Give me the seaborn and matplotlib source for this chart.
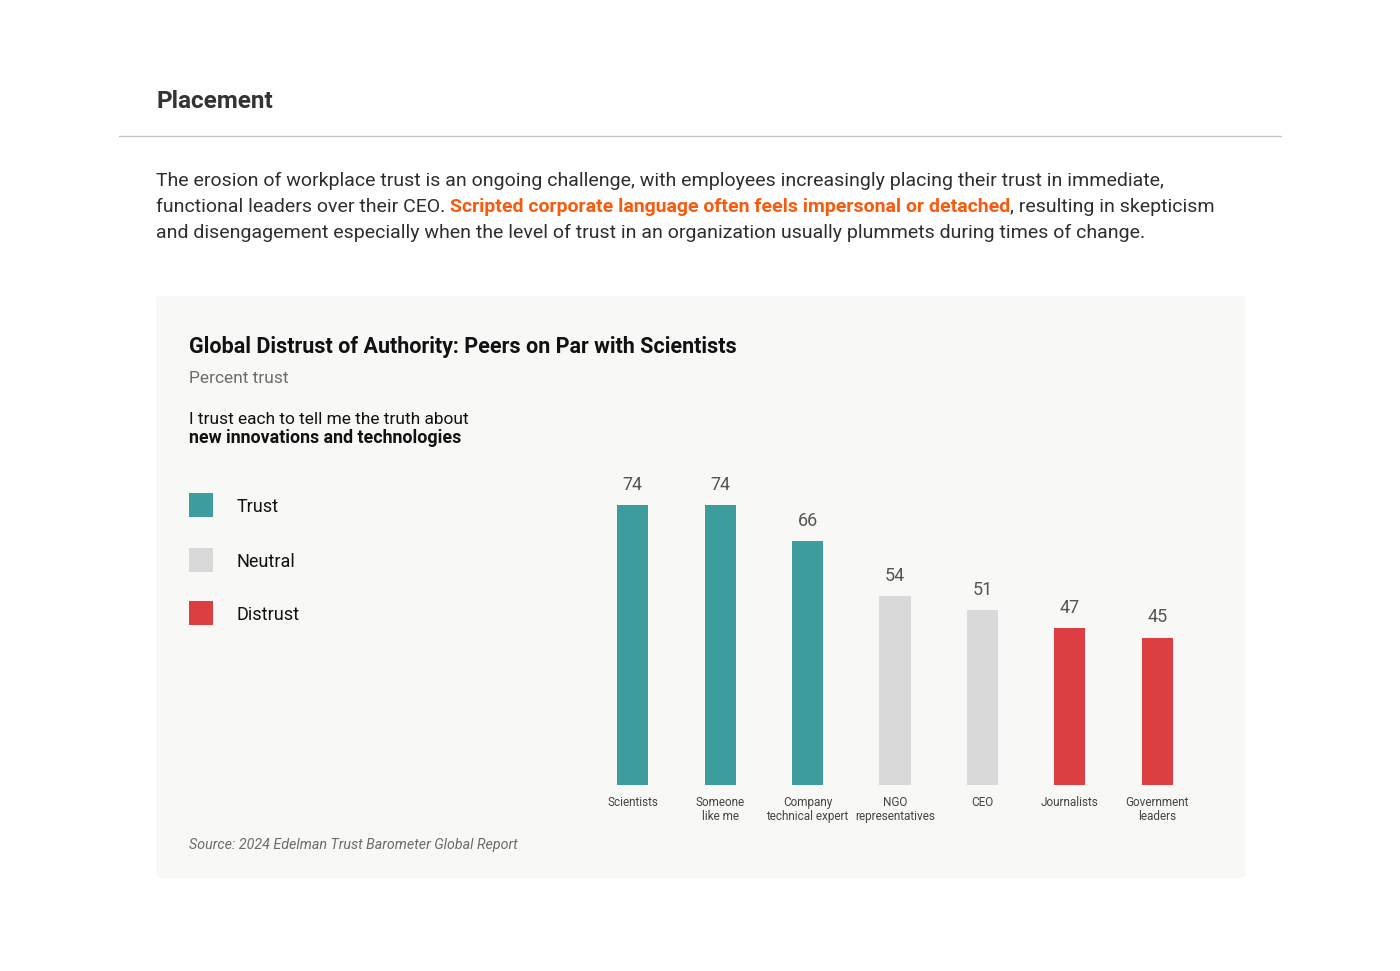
import matplotlib
matplotlib.use("Agg")
import matplotlib.pyplot as plt
from matplotlib.patches import FancyBboxPatch, Rectangle
from matplotlib.lines import Line2D
import seaborn as sns
import pandas as pd

# ---------------- data ----------------
categories = ["Scientists", "Someone\nlike me", "Company\ntechnical expert",
              "NGO\nrepresentatives", "CEO", "Journalists", "Government\nleaders"]
values = [74, 74, 66, 54, 51, 47, 45]
groups = ["Trust", "Trust", "Trust", "Neutral", "Neutral", "Distrust", "Distrust"]
legend_labels = ["Trust", "Neutral", "Distrust"]
group_colors = {"Trust": "#3D9C9C", "Neutral": "#D9D9D9", "Distrust": "#DC3E42"}

heading = "Placement"
para_parts = [
    [("The erosion of workplace trust is an ongoing challenge, with employees increasingly placing their trust in immediate,", "normal")],
    [("functional leaders over their CEO. ", "normal"),
     ("Scripted corporate language often feels impersonal or detached", "accent"),
     (", resulting in skepticism", "normal")],
    [("and disengagement especially when the level of trust in an organization usually plummets during times of change.", "normal")],
]
chart_title = "Global Distrust of Authority: Peers on Par with Scientists"
chart_subtitle = "Percent trust"
question_line1 = "I trust each to tell me the truth about"
question_line2 = "new innovations and technologies"
source_text = "Source: 2024 Edelman Trust Barometer Global Report"

# ---------------- style ----------------
sns.set_theme(style="white")
FONT = ["Roboto", "DejaVu Sans"]
plt.rcParams["font.family"] = FONT

W, H = 1400, 971
fig = plt.figure(figsize=(W / 100, H / 100), dpi=100)
fig.patch.set_facecolor("white")


def fx(x):
    return x / W


def fy(y):
    return 1 - y / H


TEXT = "#2E2E2E"
ACCENT = "#F85A0E"
PANEL = "#F8F8F6"

# heading + rule
fig.text(fx(156), fy(108), heading, fontsize=17.5, fontweight="bold", color="#333333",
         va="baseline", ha="left")
fig.add_artist(Line2D([fx(119), fx(1281)], [fy(136), fy(136)], color="#C4C4C4", lw=1))

# paragraph with highlighted part
fig.canvas.draw()
renderer = fig.canvas.get_renderer()
baselines = [186, 212, 238]
for parts, base in zip(para_parts, baselines):
    x = 156
    for txt, kind in parts:
        t = fig.text(fx(x), fy(base), txt, fontsize=14, va="baseline", ha="left",
                     color=ACCENT if kind == "accent" else TEXT,
                     fontweight="bold" if kind == "accent" else "normal")
        bb = t.get_window_extent(renderer=renderer)
        x += bb.width

# panel
panel = FancyBboxPatch((fx(156), fy(878)), fx(1245) - fx(156), fy(296) - fy(878),
                       boxstyle="round,pad=0,rounding_size=0.004",
                       transform=fig.transFigure, facecolor=PANEL, edgecolor="none",
                       zorder=0)
fig.add_artist(panel)

# chart titles
fig.text(fx(189), fy(353), chart_title, fontsize=15.5, fontweight="bold", color="#111111",
         va="baseline", ha="left")
fig.text(fx(189), fy(383), chart_subtitle, fontsize=12.5, color="#6B6B6B",
         va="baseline", ha="left")
fig.text(fx(189), fy(424), question_line1, fontsize=12.5, color="#111111",
         va="baseline", ha="left")
fig.text(fx(189), fy(443), question_line2, fontsize=12.8, fontweight="bold", color="#111111",
         va="baseline", ha="left")

# legend
legend_y = [505, 560, 613]
for lab, yc in zip(legend_labels, legend_y):
    fig.add_artist(Rectangle((fx(189), fy(yc + 12)), fx(24), 24 / H,
                             transform=fig.transFigure, facecolor=group_colors[lab],
                             edgecolor="none"))
    fig.text(fx(237), fy(yc), lab, fontsize=13, color="#111111",
             va="center_baseline", ha="left")

# source
fig.text(fx(189), fy(849), source_text, fontsize=10.3, style="italic", color="#6B6B6B",
         va="baseline", ha="left")

# ---------------- bar chart ----------------
df = pd.DataFrame({"category": categories, "value": values, "group": groups})
palette = {c: group_colors[g] for c, g in zip(categories, groups)}

ax_left, ax_right = 589, 1201
ax_top, ax_bottom = 470, 785
ax = fig.add_axes([fx(ax_left), fy(ax_bottom), fx(ax_right) - fx(ax_left),
                   (ax_bottom - ax_top) / H])
ax.set_facecolor("none")
sns.barplot(data=df, x="category", y="value", hue="category", palette=palette,
            width=0.355, legend=False, ax=ax, saturation=1, linewidth=0)
ax.set_ylim(12.8, 81.6)
ax.set_xlim(-0.5, len(categories) - 0.5)
for c in ax.containers:
    ax.bar_label(c, fmt="%g", padding=8, fontsize=13, color="#555555")
ax.set_xlabel("")
ax.set_ylabel("")
ax.set_yticks([])
ax.tick_params(axis="x", length=0, pad=8, labelsize=8.5, labelcolor="#444444")
for lbl in ax.get_xticklabels():
    lbl.set_linespacing(1.05)
for s in ax.spines.values():
    s.set_visible(False)

fig.savefig("out.png", dpi=100, facecolor="white")
